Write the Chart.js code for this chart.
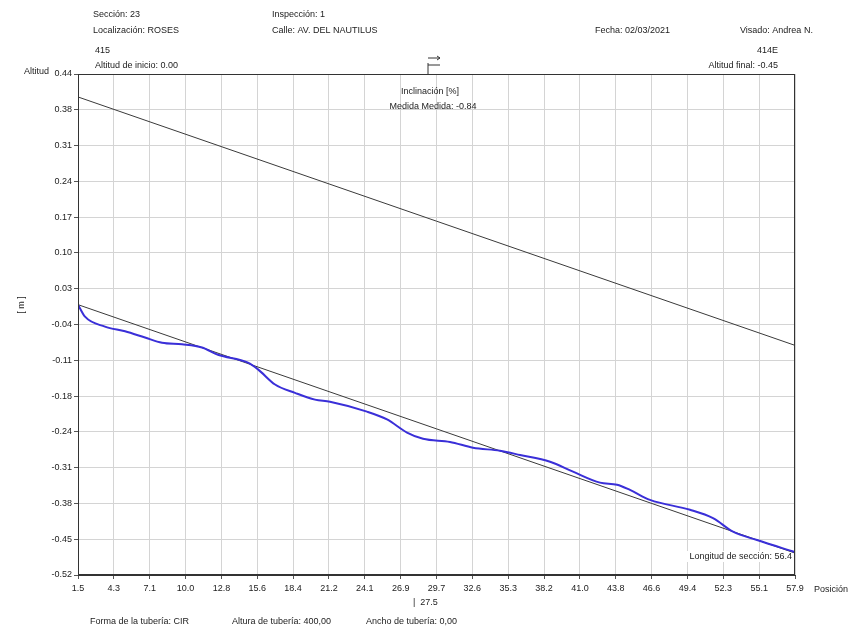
<!DOCTYPE html>
<html>
<head>
<meta charset="utf-8">
<script src="https://cdn.jsdelivr.net/npm/chart.js@4"></script>
<style>
  body { margin: 0; background: #fff; }
  #wrap { width: 854px; height: 633px; position: relative; }
</style>
</head>
<body>
<div id="wrap"><canvas id="profileChart" width="854" height="633"></canvas></div>
<script>
// Tick labels
var xTickLabels = ['1.5', '4.3', '7.1', '10.0', '12.8', '15.6', '18.4', '21.2', '24.1', '26.9', '29.7',
    '32.6', '35.3', '38.2', '41.0', '43.8', '46.6', '49.4', '52.3', '55.1', '57.9'];
var yTickLabels = ['0.44', '0.38', '0.31', '0.24', '0.17', '0.10', '0.03', '-0.04', '-0.11',
    '-0.18', '-0.24', '-0.31', '-0.38', '-0.45', '-0.52'];

// Measured profile (blue)
var profileX = [1.5, 2.05, 3.62, 5.2, 6.77, 8.11, 9.68, 11.25, 12.51, 14.87, 15.66, 17.0, 18.57, 20.14,
    21.32, 24.23, 25.81, 27.38, 28.64, 30.76, 32.57, 34.69, 36.27, 38.63, 40.44, 42.56, 43.9, 44.92,
    46.49, 49.64, 51.45, 53.02, 54.91, 57.9];
var profileY = [-0.002, -0.025, -0.044, -0.053, -0.065, -0.075, -0.078, -0.084, -0.098, -0.113, -0.126,
    -0.155, -0.171, -0.184, -0.188, -0.207, -0.222, -0.247, -0.259, -0.265, -0.276, -0.282, -0.29,
    -0.303, -0.322, -0.343, -0.347, -0.357, -0.376, -0.395, -0.411, -0.437, -0.453, -0.476];

// Straight reference lines (black)
var gradeX = [1.5, 57.9];
var gradeY = [-0.002, -0.478];
var upperX = [1.5, 57.9];
var upperY = [0.396, -0.080];

function toPoints(xs, ys) {
    var pts = [];
    for (var i = 0; i < xs.length; i++) {
        pts.push({ x: xs[i], y: ys[i] });
    }
    return pts;
}

var FONT = 'Arial, "Liberation Sans", sans-serif';

// Header, footer and small annotations
var textPlugin = {
    id: 'textPlugin',
    beforeDatasetsDraw: function(chart) {
        // section length label sits under the lines
        var ctx = chart.ctx;
        var a = chart.chartArea;
        ctx.save();
        ctx.font = '9px ' + FONT;
        var txt = 'Longitud de sección: 56.4';
        var w = ctx.measureText(txt).width;
        ctx.fillStyle = '#fff';
        ctx.fillRect(a.right - w - 6, 551, w + 5, 11);
        ctx.fillStyle = '#222';
        ctx.textAlign = 'right';
        ctx.textBaseline = 'middle';
        ctx.fillText(txt, a.right - 3, 557);
        ctx.restore();
    },
    afterDraw: function(chart) {
        var ctx = chart.ctx;
        var a = chart.chartArea;
        ctx.save();
        ctx.strokeStyle = '#333';
        ctx.lineWidth = 1;
        ctx.strokeRect(a.left + 0.5, a.top + 0.5, a.right - a.left - 1, a.bottom - a.top - 1);

        ctx.fillStyle = '#222';
        ctx.font = '9px ' + FONT;
        ctx.textBaseline = 'middle';
        ctx.textAlign = 'left';
        ctx.fillText('Sección: 23', 93, 15);
        ctx.fillText('Localización: ROSES', 93, 31);
        ctx.fillText('Inspección: 1', 272, 15);
        ctx.fillText('Calle: AV. DEL NAUTILUS', 272, 31);
        ctx.fillText('Fecha: 02/03/2021', 595, 31);
        ctx.fillText('Visado: Andrea N.', 740, 31);
        ctx.fillText('415', 95, 51);
        ctx.fillText('Altitud de inicio: 0.00', 95, 66);
        ctx.fillText('Posición', 814, 590);
        ctx.fillText('|  27.5', 413, 603);
        ctx.fillText('Forma de la tubería: CIR', 90, 622);
        ctx.fillText('Altura de tubería: 400,00', 232, 622);
        ctx.fillText('Ancho de tubería: 0,00', 366, 622);

        ctx.textAlign = 'right';
        ctx.fillText('Altitud', 49, 72);
        ctx.fillText('414E', 778, 51);
        ctx.fillText('Altitud final: -0.45', 778, 66);

        ctx.textAlign = 'center';
        ctx.fillText('Inclinación [%]', 430, 92);
        ctx.fillText('Medida Medida: -0.84', 433, 107);

        // rotated axis unit
        ctx.save();
        ctx.translate(22, 305);
        ctx.rotate(-Math.PI / 2);
        ctx.textAlign = 'center';
        ctx.fillText('[ m ]', 0, 0);
        ctx.restore();

        // flow direction symbol
        ctx.strokeStyle = '#333';
        ctx.beginPath();
        ctx.moveTo(428, 58); ctx.lineTo(440, 58);
        ctx.moveTo(437, 56); ctx.lineTo(440, 58); ctx.lineTo(437, 60);
        ctx.moveTo(428, 65); ctx.lineTo(440, 65);
        ctx.moveTo(428, 63); ctx.lineTo(428, 74);
        ctx.stroke();
        ctx.restore();
    }
};

var ctx = document.getElementById('profileChart').getContext('2d');
var profileChart = new Chart(ctx, {
    type: 'scatter',
    data: {
        datasets: [{
            label: 'Perfil',
            data: toPoints(profileX, profileY),
            showLine: true,
            borderColor: '#3a2fd8',
            borderWidth: 2,
            pointRadius: 0,
            cubicInterpolationMode: 'monotone',
            order: 1
        }, {
            label: 'Pendiente',
            data: toPoints(gradeX, gradeY),
            showLine: true,
            borderColor: '#3a3a3a',
            borderWidth: 1,
            pointRadius: 0,
            order: 2
        }, {
            label: 'Superior',
            data: toPoints(upperX, upperY),
            showLine: true,
            borderColor: '#3a3a3a',
            borderWidth: 1,
            pointRadius: 0,
            order: 3
        }]
    },
    options: {
        responsive: false,
        animation: false,
        layout: { padding: { top: 74, right: 59, bottom: 33, left: 0 } },
        plugins: {
            legend: { display: false },
            tooltip: { enabled: false }
        },
        scales: {
            x: {
                type: 'linear',
                min: 1.5,
                max: 57.9,
                afterBuildTicks: function(scale) {
                    scale.ticks = xTickLabels.map(function(l, i) {
                        return { value: 1.5 + i * 56.4 / 20 };
                    });
                },
                afterFit: function(scale) { scale.height = 25; },
                ticks: {
                    autoSkip: false,
                    maxRotation: 0,
                    color: '#222',
                    font: { size: 9, family: FONT },
                    padding: 4,
                    callback: function(v, i) { return xTickLabels[i]; }
                },
                grid: { color: '#d4d4d4', tickLength: 4, tickColor: '#555' },
                border: { color: '#333' }
            },
            y: {
                type: 'linear',
                min: -0.52,
                max: 0.44,
                afterBuildTicks: function(scale) {
                    scale.ticks = yTickLabels.map(function(l, i) {
                        return { value: 0.44 - i * 0.96 / 14 };
                    });
                },
                afterFit: function(scale) { scale.width = 78; },
                ticks: {
                    autoSkip: false,
                    color: '#222',
                    font: { size: 9, family: FONT },
                    padding: 2,
                    callback: function(v, i) { return yTickLabels[i]; }
                },
                grid: { color: '#d4d4d4', tickLength: 4, tickColor: '#555' },
                border: { color: '#333' }
            }
        }
    },
    plugins: [textPlugin]
});
</script>
</body>
</html>
